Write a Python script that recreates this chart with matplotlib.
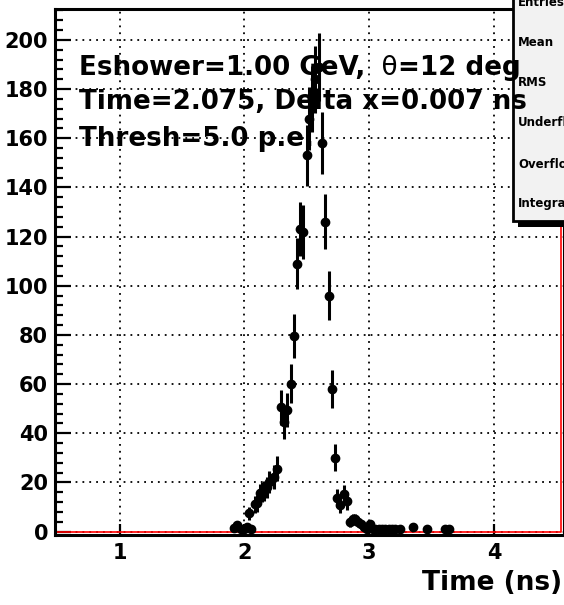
import numpy as np
import matplotlib.pyplot as plt
from matplotlib.patches import Rectangle
from matplotlib.ticker import MultipleLocator

plt.rcParams['font.family'] = ['DejaVu Sans']
plt.rcParams['font.weight'] = 'bold'

# photoelectron arrival times (bin centre, ns) and counts
t_ns = [1.92, 1.945, 1.97, 2.00, 2.02, 2.04, 2.055, 2.085, 2.105, 2.125,
        2.14, 2.16, 2.18, 2.20, 2.24, 2.265, 2.29, 2.315, 2.34, 2.37,
        2.395, 2.42, 2.445, 2.47, 2.498, 2.52, 2.545, 2.57, 2.595, 2.625,
        2.65, 2.675, 2.70, 2.725, 2.745, 2.77, 2.80, 2.825, 2.85, 2.87,
        2.89, 2.91, 2.935, 2.96, 2.985, 3.01, 3.03, 3.05, 3.075, 3.10,
        3.13, 3.155, 3.18, 3.21, 3.25, 3.35, 3.46, 3.61, 3.64]
counts = [1.5, 2.5, 1.0, 1.0, 2.0, 7.4, 1.0, 11.0, 11.5, 15.5,
          16.0, 16.5, 18.0, 20.0, 22.2, 25.6, 50.5, 44.5, 49.4, 60.2,
          79.5, 109.0, 123.0, 122.0, 153.0, 168.0, 176.0, 184.0, 189.0, 158.0,
          126.0, 96.0, 58.0, 30.0, 13.5, 10.8, 15.2, 12.4, 4.0, 5.0,
          5.0, 4.0, 3.0, 2.0, 1.0, 3.0, 1.0, 1.0, 1.0, 1.0,
          1.0, 1.0, 1.0, 1.0, 1.0, 2.0, 1.0, 1.0, 1.0]
hist_range = [0.483, 4.539]

stat_names = ["Entries", "Mean", "RMS", "Underflow", "Overflow", "Integral"]

W, H = 564, 605
fig = plt.figure(figsize=(W / 100, H / 100), dpi=100)
# axes box in pixels: left 55, right 564, top 8.5, bottom 534.5
ax = fig.add_axes([55 / W, 1 - 534.5 / H, (564 - 55) / W, (534.5 - 8.5) / H])
ax.set_xlim(0.483, 4.561)
ax.set_ylim(-1.22, 212.8)

ax.grid(True, color='black', linestyle=(0, (1, 2.8)), linewidth=1.3)
ax.set_axisbelow(True)

# empty histogram outline in red
ax.plot([hist_range[0], hist_range[1], hist_range[1]], [0, 0, 250],
        color='red', lw=1.2, zorder=2)

err = np.sqrt(np.array(counts))
ax.errorbar(t_ns, counts, yerr=err, fmt='o', color='black', ms=6,
            elinewidth=2.2, capsize=0, zorder=3)

ax.xaxis.set_major_locator(MultipleLocator(1))
ax.yaxis.set_major_locator(MultipleLocator(20))
ax.yaxis.set_minor_locator(MultipleLocator(4))
ax.tick_params(axis='y', which='major', direction='in', length=11.5, width=1.6,
               labelsize=15, pad=5)
ax.tick_params(axis='y', which='minor', direction='in', length=6, width=1.6)
ax.tick_params(axis='x', which='major', direction='in', length=8, width=1.6,
               labelsize=15, pad=6)
for lab in ax.get_xticklabels() + ax.get_yticklabels():
    lab.set_fontweight('bold')
for s in ax.spines.values():
    s.set_linewidth(2.2)

# stats box (clipped by canvas edge)
fig.patches.append(Rectangle((518 / W, 1 - 227 / H), 0.2, 0.5, transform=fig.transFigure,
                             facecolor='black', edgecolor='none', zorder=5))
fig.patches.append(Rectangle((513 / W, 1 - 221 / H), 0.2, 0.5, transform=fig.transFigure,
                             facecolor='#f2f2f2', edgecolor='black', lw=2, zorder=6))
ys = [3, 43, 83, 122, 164, 204]
for name, yp in zip(stat_names, ys):
    fig.text(518 / W, 1 - yp / H, name, fontsize=8.5, fontweight='bold',
             va='center', ha='left', zorder=7)

# text block, drawn over the stats box
renderer = fig.canvas.get_renderer()
def chain(parts, x, y, size):
    for s, w in parts:
        t = fig.text(x, y, s, fontsize=size, fontweight=w, va='baseline', zorder=10)
        x = t.get_window_extent(renderer).x1 / W

tx = 79 / W
chain([("Eshower=1.00 GeV,", 'bold'), ("  \u03b8", 'normal'), ("=12 deg", 'bold')],
      tx, 1 - 75 / H, 18.8)
chain([("Time=2.075, Delta x=0.007 ns", 'bold')], tx, 1 - 109 / H, 18.8)
chain([("Thresh=5.0 p.e.", 'bold')], tx, 1 - 146 / H, 18.8)

fig.text(562 / W, 1 - 583 / H, "Time (ns)", fontsize=19, fontweight='bold',
         ha='right', va='center')

fig.savefig("out.png", dpi=100)
